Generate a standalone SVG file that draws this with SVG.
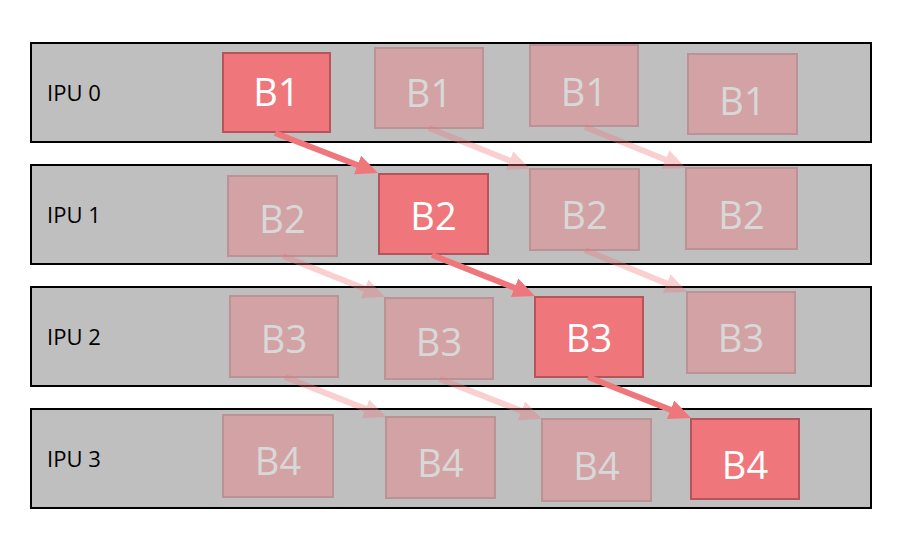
<svg xmlns="http://www.w3.org/2000/svg" width="910" height="548" viewBox="0 0 910 548">
<style>
.lane{fill:#bfbfbf;stroke:#000;stroke-width:2}
.lbl{font-family:"Open Sans","Liberation Sans",sans-serif;font-size:22px;fill:#000}
.box{fill:#ef777c;stroke:#b5545a;stroke-width:2}
.bt{font-family:"Open Sans","Liberation Sans",sans-serif;font-size:38px;fill:#fff;text-anchor:middle}
.faded{opacity:0.4}
.arr{stroke:#ef777c;stroke-width:6;fill:none;marker-end:url(#ah)}
.farr{opacity:0.35}
</style>
<defs>
<marker id="ah" viewBox="0 0 22 20" refX="4" refY="10" markerWidth="22" markerHeight="20" markerUnits="userSpaceOnUse" orient="auto">
<path d="M0,0 L22,10 L0,20 z" fill="#ef777c"/>
</marker>
</defs>
<rect width="910" height="548" fill="#fff"/>
<g id="lane0"><rect class="lane" x="31" y="43" width="840" height="99"/><text class="lbl" x="47" y="101">IPU 0</text></g>
<g id="lane1"><rect class="lane" x="31" y="165" width="840" height="99"/><text class="lbl" x="47" y="223">IPU 1</text></g>
<g id="lane2"><rect class="lane" x="31" y="287" width="840" height="99"/><text class="lbl" x="47" y="345">IPU 2</text></g>
<g id="lane3"><rect class="lane" x="31" y="409" width="840" height="99"/><text class="lbl" x="47" y="467">IPU 3</text></g>

<g id="b1a"><rect class="box" x="223" y="53" width="107" height="79"/><text class="bt" x="276.5" y="106">B1</text></g>
<g id="b1b" class="faded"><rect class="box" x="375" y="48" width="108" height="80"/><text class="bt" x="429" y="107">B1</text></g>
<g id="b1c" class="faded"><rect class="box" x="530" y="45" width="108" height="81"/><text class="bt" x="584" y="106">B1</text></g>
<g id="b1d" class="faded"><rect class="box" x="688" y="54" width="109" height="80"/><text class="bt" x="742.5" y="115">B1</text></g>

<g id="b2a" class="faded"><rect class="box" x="228" y="176" width="109" height="80"/><text class="bt" x="282.5" y="233">B2</text></g>
<g id="b2b"><rect class="box" x="379" y="174" width="109" height="80"/><text class="bt" x="433.5" y="230">B2</text></g>
<g id="b2c" class="faded"><rect class="box" x="530" y="169" width="109" height="81"/><text class="bt" x="584.5" y="229">B2</text></g>
<g id="b2d" class="faded"><rect class="box" x="686" y="168" width="111" height="81"/><text class="bt" x="741.5" y="229">B2</text></g>

<g id="b3a" class="faded"><rect class="box" x="230" y="296" width="108" height="81"/><text class="bt" x="284" y="353">B3</text></g>
<g id="b3b" class="faded"><rect class="box" x="385" y="298" width="108" height="81"/><text class="bt" x="439" y="356">B3</text></g>
<g id="b3c"><rect class="box" x="535" y="297" width="108" height="80"/><text class="bt" x="589" y="352">B3</text></g>
<g id="b3d" class="faded"><rect class="box" x="687" y="292" width="108" height="81"/><text class="bt" x="741" y="352">B3</text></g>

<g id="b4a" class="faded"><rect class="box" x="223" y="415" width="110" height="82"/><text class="bt" x="278" y="475">B4</text></g>
<g id="b4b" class="faded"><rect class="box" x="386" y="417" width="109" height="81"/><text class="bt" x="440.5" y="477">B4</text></g>
<g id="b4c" class="faded"><rect class="box" x="542" y="419" width="109" height="82"/><text class="bt" x="596.5" y="480">B4</text></g>
<g id="b4d"><rect class="box" x="691" y="419" width="108" height="80"/><text class="bt" x="745" y="479">B4</text></g>

<g id="connectors">
<line class="arr" x1="275" y1="133" x2="361.2" y2="166.5"/>
<line class="arr" x1="432" y1="255" x2="518.3" y2="289.3"/>
<line class="arr" x1="588" y1="377" x2="674.3" y2="411.3"/>
<g class="farr"><line class="arr" x1="429" y1="128" x2="513.3" y2="162.2"/></g>
<g class="farr"><line class="arr" x1="585" y1="127" x2="669.3" y2="161.2"/></g>
<g class="farr"><line class="arr" x1="283" y1="256" x2="368.3" y2="290.3"/></g>
<g class="farr"><line class="arr" x1="585" y1="250" x2="670.4" y2="285.1"/></g>
<g class="farr"><line class="arr" x1="285" y1="377" x2="369.3" y2="410.4"/></g>
<g class="farr"><line class="arr" x1="440" y1="379" x2="525.2" y2="412.4"/></g>
</g>
</svg>
